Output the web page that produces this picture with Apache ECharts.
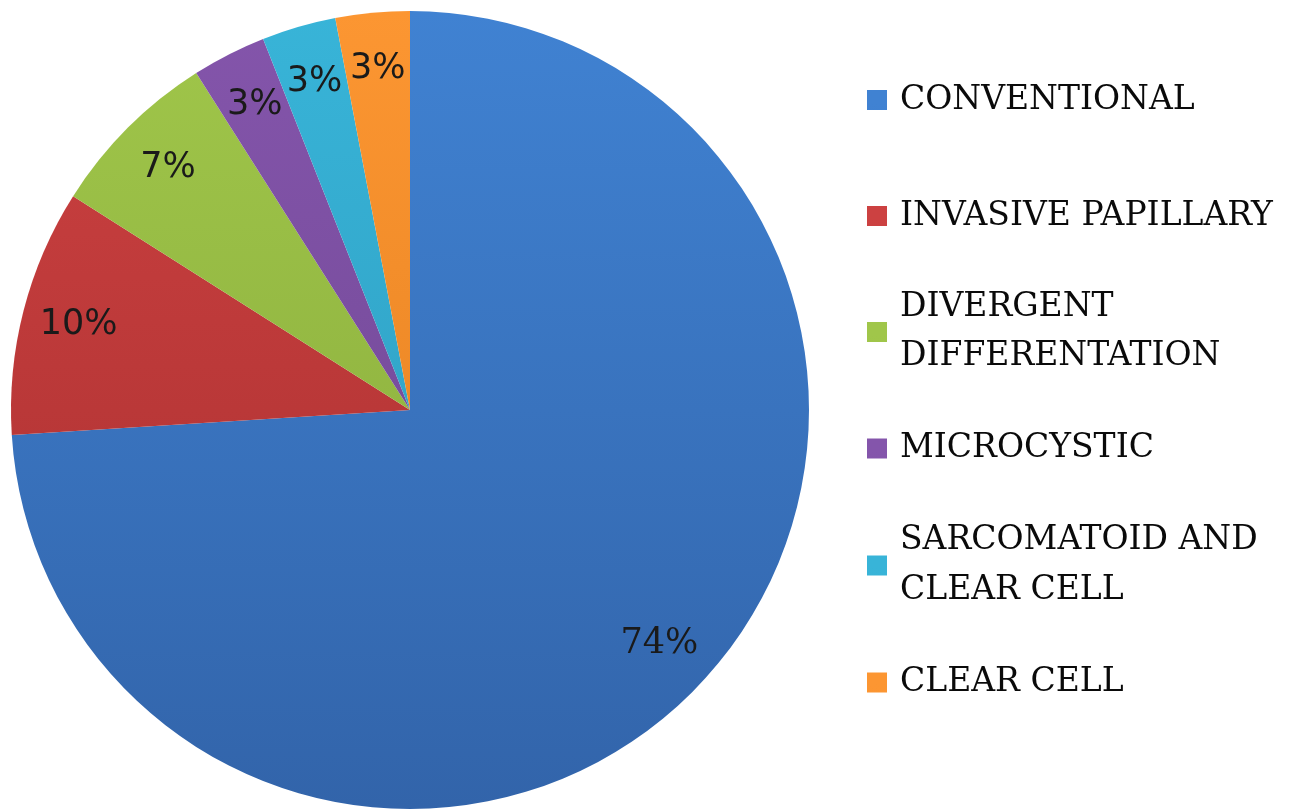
<!DOCTYPE html>
<html>
<head>
<meta charset="utf-8">
<script src="https://cdn.jsdelivr.net/npm/echarts@6/dist/echarts.min.js"></script>
<style>
  html, body { margin: 0; padding: 0; background: #ffffff; }
  #chart { width: 1306px; height: 809px; }
</style>
</head>
<body>
<div id="chart"></div>
<script>
// Subtypes, in clockwise order starting at 12 o'clock
const categories = [
  'CONVENTIONAL',
  'INVASIVE PAPILLARY',
  'DIVERGENT\nDIFFERENTATION',
  'MICROCYSTIC',
  'SARCOMATOID AND\nCLEAR CELL',
  'CLEAR CELL'
];
// Share of cases, percent
const values = [74, 10, 7, 3, 3, 3];
// Slice colours: lighter at the top of the pie, darker at the bottom
const topColors = ['#4082d2', '#cc4141', '#a0c64a', '#8455ab', '#38b4d8', '#fc9632'];
const bottomColors = ['#3264aa', '#a82f2f', '#86a83a', '#6c4590', '#2c98bb', '#e07d1c'];
// Vertical position (px) of each legend marker
const legendMarkerY = [97.5, 213.5, 329.5, 446, 563, 680];

const cx = 410, cy = 410, R = 399;
const LINE_H = 49.5;

function gradient(i) {
  return new echarts.graphic.LinearGradient(0, cy - R, 0, cy + R, [
    { offset: 0, color: topColors[i] },
    { offset: 1, color: bottomColors[i] }
  ], true);
}

const sliceData = categories.map((name, i) => ({
  name: name,
  value: values[i],
  itemStyle: { color: gradient(i) }
}));

// Transparent ring sharing the same data: its inner labels sit near the rim
const labelData = categories.map((name, i) => ({
  name: name,
  value: values[i],
  label: i === 0
    ? { fontFamily: 'DejaVu Serif', fontSize: 35 }
    : {}
}));

const legends = categories.map((name, i) => {
  const lines = name.split('\n').length;
  const padTop = (lines - 1) * LINE_H;
  const halfBox = (lines * LINE_H + padTop) / 2;
  return {
    data: [name],
    orient: 'vertical',
    left: 867,
    top: legendMarkerY[i] - halfBox + 1,
    padding: 0,
    icon: 'rect',
    itemWidth: 20,
    itemHeight: 20,
    selectedMode: false,
    textStyle: {
      fontFamily: 'DejaVu Serif',
      fontSize: 33,
      color: '#0a0a0a',
      lineHeight: LINE_H,
      padding: [padTop + 3, 0, 0, 8]
    }
  };
});

const chart = echarts.init(document.getElementById('chart'), null, { renderer: 'canvas' });
chart.setOption({
  animation: false,
  backgroundColor: '#ffffff',
  legend: legends,
  series: [
    {
      type: 'pie',
      center: [cx, cy],
      radius: [0, R],
      clockwise: true,
      startAngle: 90,
      label: { show: false },
      labelLine: { show: false },
      silent: true,
      itemStyle: { borderWidth: 0 },
      data: sliceData
    },
    {
      type: 'pie',
      center: [cx, cy],
      radius: [R * 0.70, R],
      clockwise: true,
      startAngle: 90,
      silent: true,
      legendHoverLink: false,
      itemStyle: { color: 'rgba(0,0,0,0)', borderWidth: 0 },
      label: {
        show: true,
        position: 'inside',
        formatter: '{c}%',
        fontFamily: 'DejaVu Sans',
        fontSize: 35,
        color: '#1a1a1a'
      },
      labelLine: { show: false },
      data: labelData
    }
  ]
});
</script>
</body>
</html>
